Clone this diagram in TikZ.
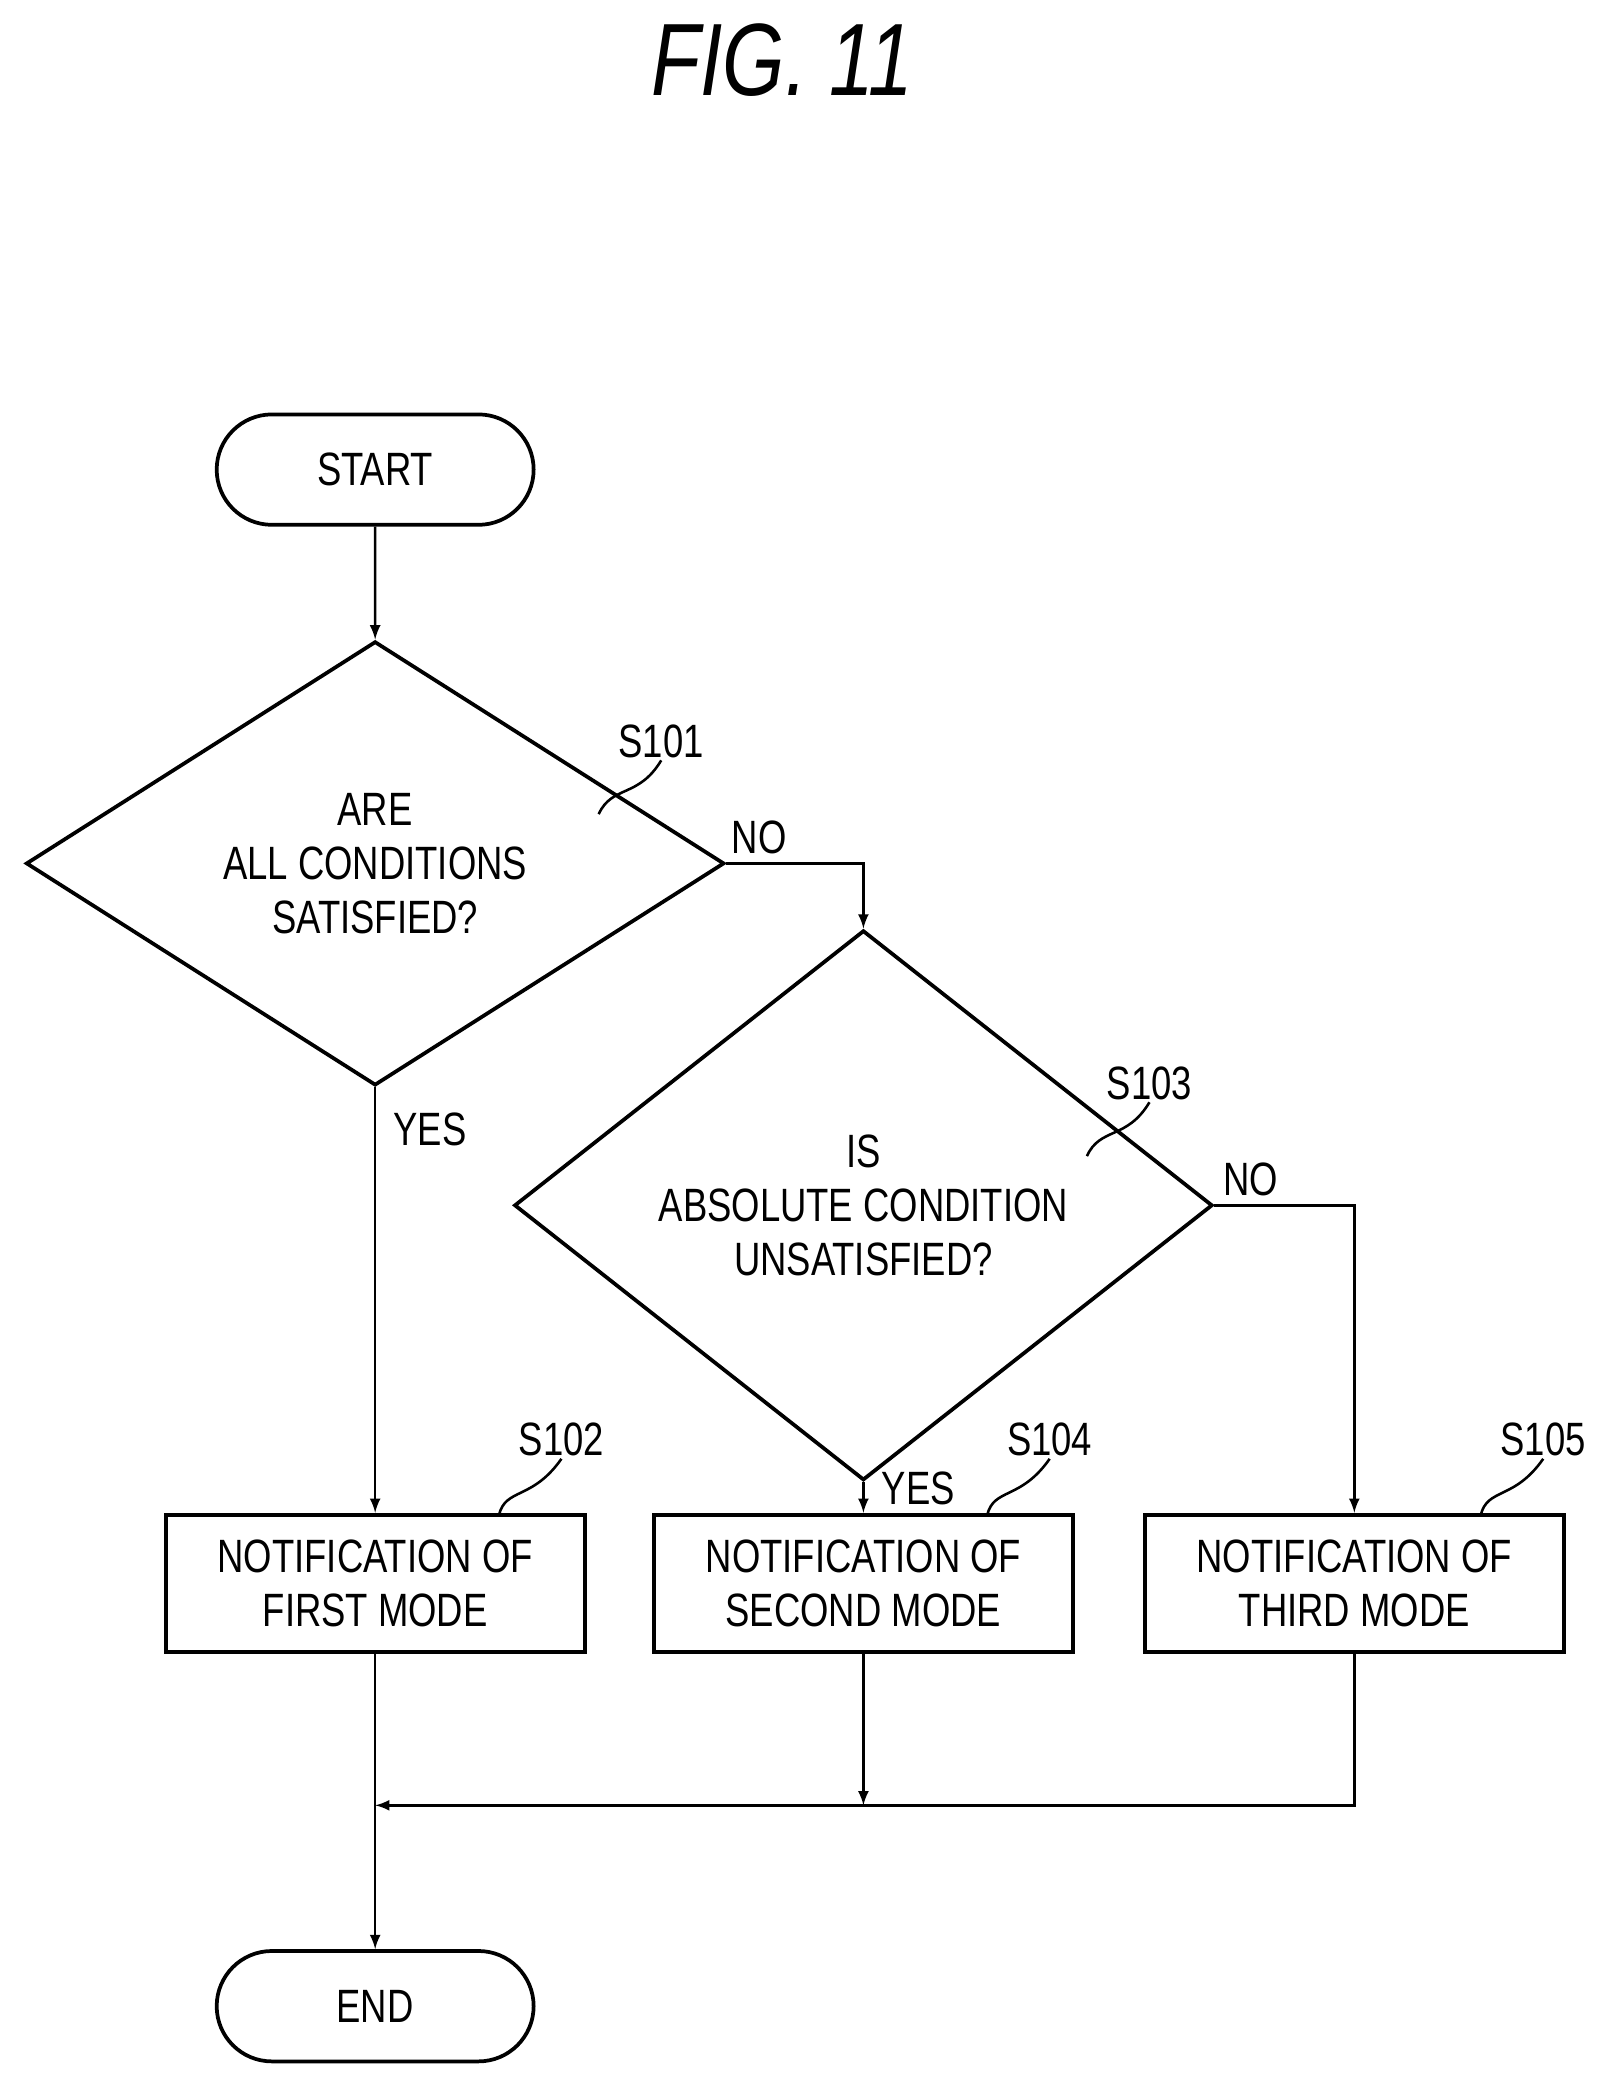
\documentclass[tikz,border=0pt]{standalone}
\usepackage{fontspec}
\setmainfont{Liberation Sans}[FakeStretch=0.78]
\usetikzlibrary{shapes.geometric,shapes.misc}
\begin{document}
\begin{tikzpicture}[x=0.02cm,y=-0.02cm,>=latex,font=\fontsize{20}{23}\selectfont,
	term/.style={rounded rectangle, draw, line width=1.6pt, minimum width=5cm, minimum height=1.66cm},
	dec/.style={diamond, draw, line width=1.6pt, minimum width=10.5cm, minimum height=3.76cm, inner sep=0pt, align=center},
	proc/.style={rectangle, draw, line width=1.6pt, minimum width=6.3cm, minimum height=2.06cm, align=center},
	line/.style={line width=1.1pt},
	steplabel/.style={inner sep=1pt}]
	\useasboundingbox (0,0) rectangle (1210,1568);
	\node (title) at (588,45) {\fontsize{44}{48}\selectfont\itshape FIG. 11};

	\node (start)	at (282,353) [term] {START};
	\node (check)	at (282,649) [dec] {ARE\\ALL CONDITIONS\\SATISFIED?};
	\node (abs)		at (649,906) [dec] {IS\\ABSOLUTE CONDITION\\UNSATISFIED?};
	\node (first)	at (282,1190) [proc] {NOTIFICATION OF\\FIRST MODE};
	\node (second)	at (649,1190) [proc] {NOTIFICATION OF\\SECOND MODE};
	\node (third)	at (1018,1190) [proc] {NOTIFICATION OF\\THIRD MODE};
	\node (end)		at (282,1508) [term] {END};

	% step labels
	\node (s101) at (497,557) [steplabel] {S101};
	\node (s103) at (864,814) [steplabel] {S103};
	\node (s102) at (422,1082) [steplabel] {S102};
	\node (s104) at (789,1082) [steplabel] {S104};
	\node (s105) at (1160,1082) [steplabel] {S105};
	\draw[line] (450,612) .. controls (460,590) and (480,600) .. (s101.south);
	\draw[line] (817,869) .. controls (827,847) and (847,857) .. (s103.south);
	\draw[line] (375,1139) .. controls (380,1118) and (400,1128) .. (s102.south);
	\draw[line] (742,1139) .. controls (747,1118) and (767,1128) .. (s104.south);
	\draw[line] (1113,1139) .. controls (1118,1118) and (1138,1128) .. (s105.south);

	\coordinate (join) at (282,1357);
	\draw[line,->] (start) -- (check);
	\draw[line,->] (check.east) -| (abs.north) node[pos=0.12,above] {NO};
	\draw[line,->] (check.south) -- (first.north) node[pos=0.1,right=4pt] {YES};
	\draw[line,->] (abs.east) -| (third.north) node[pos=0.13,above] {NO};
	\draw[line,->] (abs.south) -- (second.north) node[pos=0.2,right=4pt] {YES};
	\draw[line,->] (second.south) -- (second.south |- join);
	\draw[line,->] (third.south) |- (join);
	\draw[line,->] (first.south) -- (end.north);
\end{tikzpicture}
\end{document}
